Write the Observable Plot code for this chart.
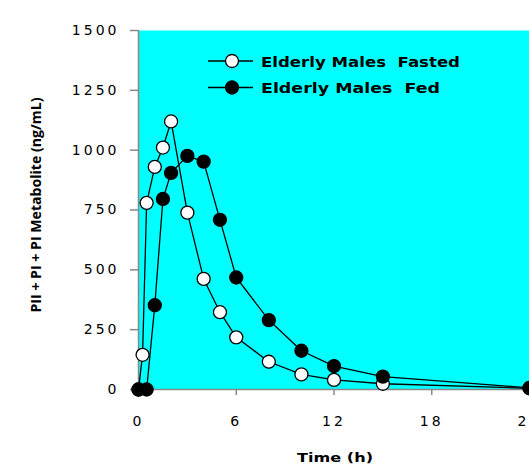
<!DOCTYPE html>
<html><head><meta charset="utf-8">
<script src="https://cdn.jsdelivr.net/npm/d3@7"></script>
<script src="https://cdn.jsdelivr.net/npm/@observablehq/plot@0.6"></script>
<style>
html,body{margin:0;padding:0;background:#fff;overflow:hidden}
</style>
</head><body><div id="chart"></div>
<script>
// Data
const fastedTime = [0, 0.25, 0.5, 1, 1.5, 2, 3, 4, 5, 6, 8, 10, 12, 15, 24];
const fastedConc = [0, 145, 780, 930, 1011, 1120, 739, 462, 323, 218, 116, 63, 40, 24, 5];
const fedTime = [0, 0.5, 1, 1.5, 2, 3, 4, 5, 6, 8, 10, 12, 15, 24];
const fedConc = [0, 0, 352, 796, 905, 976, 952, 709, 468, 290, 162, 98, 54, 7];
const seriesNames = ["Elderly Males  Fasted", "Elderly Males  Fed"];
const xTicks = [0, 6, 12, 18, 24];
const yTicks = [0, 250, 500, 750, 1000, 1250, 1500];
const xTitle = "Time (h)";
const yTitle = "PII + PI + PI Metabolite (ng/mL)";

const fasted = fastedTime.map((t, i) => ({t, v: fastedConc[i]}));
const fed = fedTime.map((t, i) => ({t, v: fedConc[i]}));

const chart = Plot.plot({
  width: 529, height: 464,
  marginLeft: 138, marginRight: 0, marginTop: 30, marginBottom: 75,
  style: {fontFamily: "DejaVu Sans", fontSize: "14px", color: "#000", background: "#fff", overflow: "visible"},
  x: {domain: [0, 24], label: null},
  y: {domain: [0, 1500], label: null},
  marks: [
    Plot.frame({fill: "#00FFFF", stroke: null}),
    Plot.axisX({ticks: xTicks, tickFormat: d3.format("d"), tickSize: 6, tickPadding: 21, stroke: "#888", strokeWidth: 1.5, fill: "#000", label: null}),
    Plot.axisY({ticks: yTicks, tickFormat: d3.format("d"), tickSize: 8, tickPadding: 11, stroke: "#888", strokeWidth: 1.5, fill: "#000", label: null}),
    Plot.ruleY([0], {stroke: "#888", strokeWidth: 1.5}),
    Plot.ruleX([0], {stroke: "#888", strokeWidth: 1.5}),
    Plot.line(fasted, {x: "t", y: "v", stroke: "black", strokeWidth: 1.3}),
    Plot.dot(fasted, {x: "t", y: "v", r: 6.5, fill: "white", stroke: "black", strokeWidth: 1.3}),
    Plot.line(fed, {x: "t", y: "v", stroke: "black", strokeWidth: 1.3}),
    Plot.dot(fed, {x: "t", y: "v", r: 6.5, fill: "black", stroke: "black", strokeWidth: 1.3})
  ]
});
document.getElementById("chart").appendChild(chart);

const svg = d3.select(chart);
svg.selectAll('g[aria-label="y-axis tick label"] text, g[aria-label="x-axis tick label"] text')
  .style("letter-spacing", "3px");

// Legend
const legend = svg.append("g").attr("font-family", "DejaVu Sans").attr("font-weight", "bold")
  .attr("font-size", 14).attr("text-anchor", "start");
const lw = [199, 179];
seriesNames.forEach((name, i) => {
  const y = 61 + i * 26.5;
  legend.append("line").attr("x1", 208).attr("x2", 253).attr("y1", y).attr("y2", y).attr("stroke", "black").attr("stroke-width", 1.3);
  legend.append("circle").attr("cx", 232).attr("cy", y).attr("r", 6.5).attr("fill", i === 0 ? "white" : "black").attr("stroke", "black").attr("stroke-width", 1.3);
  legend.append("text").attr("x", 261).attr("y", y + 5.5).attr("text-anchor", "start")
    .attr("textLength", lw[i]).attr("lengthAdjust", "spacingAndGlyphs").text(name);
});

// Axis titles
svg.append("text").attr("x", 335).attr("y", 462).attr("text-anchor", "middle")
  .attr("font-family", "DejaVu Sans").attr("font-weight", "bold").attr("font-size", 13)
  .attr("textLength", 76).attr("lengthAdjust", "spacingAndGlyphs").text(xTitle);
svg.append("text").attr("transform", "translate(41,205) rotate(-90)").attr("text-anchor", "middle")
  .attr("font-family", "Open Sans").attr("font-weight", "bold").attr("font-size", 14)
  .attr("textLength", 215).attr("lengthAdjust", "spacingAndGlyphs").text(yTitle);
</script>
</body></html>
